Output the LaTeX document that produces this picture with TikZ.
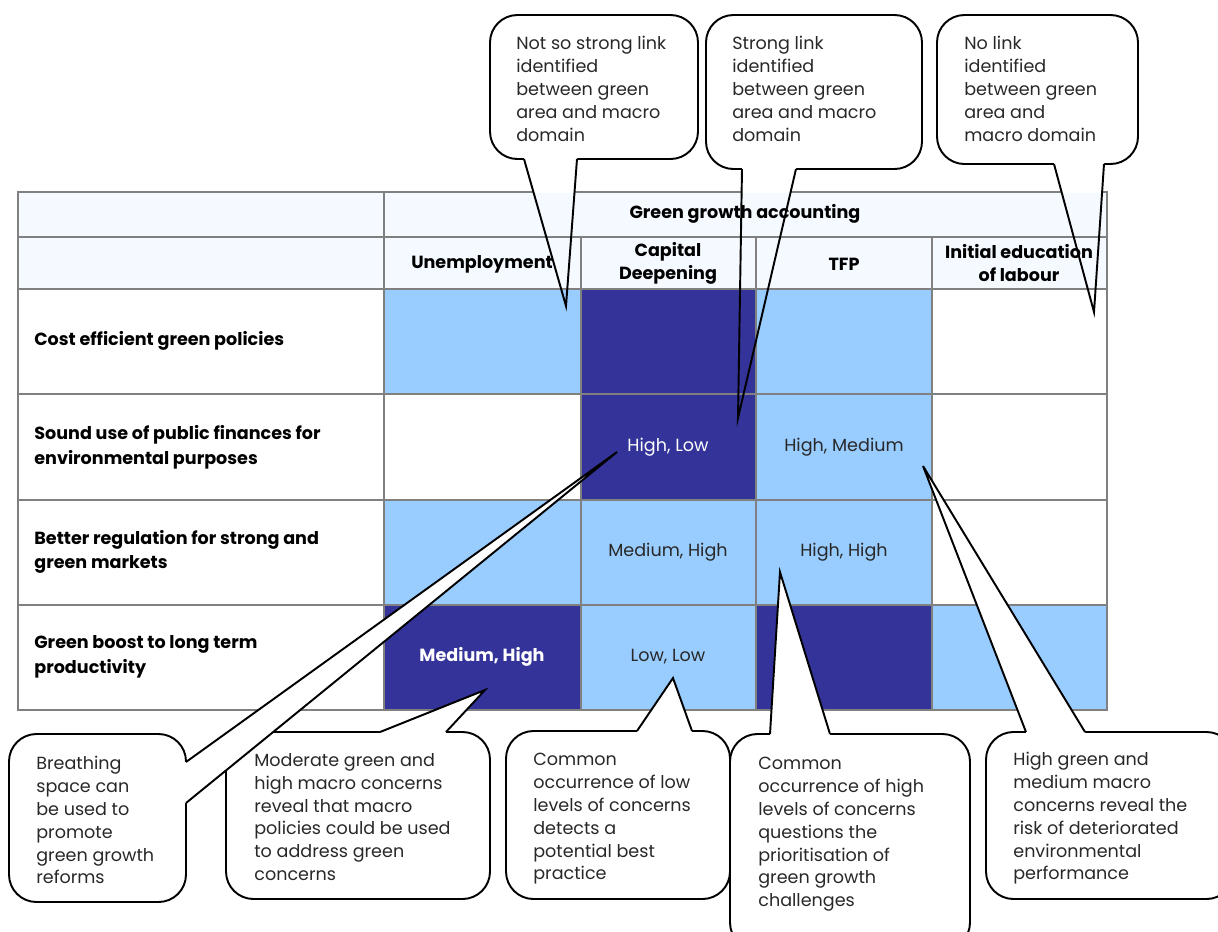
\documentclass[tikz,border=0pt]{standalone}
\usepackage{fontspec}
\setmainfont{Poppins}
\definecolor{paleblue}{RGB}{244,250,255}
\definecolor{lightblue}{RGB}{153,204,255}
\definecolor{darkblue}{RGB}{51,51,153}
\definecolor{gridgray}{RGB}{128,128,128}
\definecolor{textgray}{RGB}{40,40,40}

\begin{document}
\begin{tikzpicture}
  [x=0.02cm, y=-0.02cm,
  cell/.style={draw=gridgray, line width=1.3pt},
  head/.style={font=\fontsize{10}{13}\selectfont\bfseries, align=center, text=black},
  rowlabel/.style={font=\fontsize{10}{14}\selectfont\bfseries, align=left, anchor=west, inner sep=0pt, text=black},
  value/.style={font=\fontsize{10}{13}\selectfont, text=textgray},
  bubble/.style={draw=black, fill=white, line width=1.1pt, rounded corners=0.55cm},
  pointer/.style={draw=black, line width=1.1pt, line join=miter},
  note/.style={font=\fontsize{10}{13}\selectfont, text=textgray, align=left, anchor=north west, inner sep=0pt}]
  \useasboundingbox (0,0) rectangle (1218,931);

% Table
\path[cell, fill=paleblue] (18,192) rectangle (384,237);
\path[cell, fill=paleblue] (18,237) rectangle (384,289);
\path[cell, fill=paleblue] (384,192) rectangle (1107,237);
\path[cell, fill=paleblue] (384,237) rectangle (581,289);
\path[cell, fill=paleblue] (581,237) rectangle (756,289);
\path[cell, fill=paleblue] (756,237) rectangle (932,289);
\path[cell, fill=paleblue] (932,237) rectangle (1107,289);

\path[cell, fill=white] (18,289) rectangle (384,394);
\path[cell, fill=lightblue] (384,289) rectangle (581,394);
\path[cell, fill=darkblue] (581,289) rectangle (756,394);
\path[cell, fill=lightblue] (756,289) rectangle (932,394);
\path[cell, fill=white] (932,289) rectangle (1107,394);

\path[cell, fill=white] (18,394) rectangle (384,500);
\path[cell, fill=white] (384,394) rectangle (581,500);
\path[cell, fill=darkblue] (581,394) rectangle (756,500);
\path[cell, fill=lightblue] (756,394) rectangle (932,500);
\path[cell, fill=white] (932,394) rectangle (1107,500);

\path[cell, fill=white] (18,500) rectangle (384,605);
\path[cell, fill=lightblue] (384,500) rectangle (581,605);
\path[cell, fill=lightblue] (581,500) rectangle (756,605);
\path[cell, fill=lightblue] (756,500) rectangle (932,605);
\path[cell, fill=white] (932,500) rectangle (1107,605);

\path[cell, fill=white] (18,605) rectangle (384,710);
\path[cell, fill=darkblue] (384,605) rectangle (581,710);
\path[cell, fill=lightblue] (581,605) rectangle (756,710);
\path[cell, fill=darkblue] (756,605) rectangle (932,710);
\path[cell, fill=lightblue] (932,605) rectangle (1107,710);

\node (title) [head] at (745,214) {Green growth accounting};
\node (unemp) [head] at (482,264) {Unemployment};
\node (capdeep) [head] at (668,263) {Capital\\Deepening};
\node (tfp) [head] at (844,264) {TFP};
\node (initedu) [head] at (1019,263) {Initial education\\of labour};

\node (cost) [rowlabel] at (34,341) {Cost efficient green policies};
\node (sound) [rowlabel] at (34,447) {Sound use of public finances for\\environmental purposes};
\node (regul) [rowlabel] at (34,552) {Better regulation for strong and\\green markets};
\node (boost) [rowlabel] at (34,657) {Green boost to long term\\productivity};

\node (sound-cap) [value, text=white] at (668,447) {High, Low};
\node (sound-tfp) [value] at (844,447) {High, Medium};
\node (regul-cap) [value] at (668,552) {Medium, High};
\node (regul-tfp) [value] at (844,552) {High, High};
\node (boost-unemp) [value, text=white, font=\fontsize{10}{13}\selectfont\bfseries] at (482,657) {Medium, High};
\node (boost-cap) [value] at (668,657) {Low, Low};

% Callouts above the table (pointers see-through over the cells)
\path[bubble] (490,15) rectangle (698,159);
\path[bubble] (706,15) rectangle (922,169);
\path[bubble] (937,15) rectangle (1138,164);
\begin{scope}
  \clip (0,0) rectangle (1218,192);
  \fill[white] (524,150) -- (524,159) -- (566,306) -- (577,159) -- (577,150) -- cycle;
  \fill[white] (742,160) -- (742,169) -- (738,418) -- (796,169) -- (796,160) -- cycle;
  \fill[white] (1054,155) -- (1054,164) -- (1094,312) -- (1104,164) -- (1104,155) -- cycle;
\end{scope}
\draw[pointer] (524,159) -- (566,306) -- (577,159);
\draw[pointer] (742,169) -- (738,418) -- (796,169);
\draw[pointer] (1054,164) -- (1094,312) -- (1104,164);

\node (weak) [note] at (516,36) {Not so strong link\\identified\\between green\\area and macro\\domain};
\node (strong) [note] at (732,36) {Strong link\\identified\\between green\\area and macro\\domain};
\node (nolink) [note] at (964,36) {No link\\identified\\between green\\area and\\macro domain};

% Callouts below the table
\path[bubble] (226,732) rectangle (490,899);
\fill[white] (380,740) -- (380,732) -- (485,690) -- (446,732) -- (446,740) -- cycle;
\draw[pointer] (380,732) -- (485,690) -- (446,732);

\path[bubble] (9,734) rectangle (186,902);
\fill[white] (178,762) -- (186,762) -- (617,452) -- (186,803) -- (178,803) -- cycle;
\draw[pointer] (186,762) -- (617,452) -- (186,803);

\path[bubble] (506,731) rectangle (730,899);
\fill[white] (637,739) -- (637,731) -- (673,678) -- (692,731) -- (692,739) -- cycle;
\draw[pointer] (637,731) -- (673,678) -- (692,731);

\path[bubble] (730,734) rectangle (970,950);
\fill[white] (770,742) -- (770,734) -- (780,572) -- (830,734) -- (830,742) -- cycle;
\draw[pointer] (770,734) -- (780,572) -- (830,734);

\path[bubble] (986,732) rectangle (1234,899);
\fill[white] (1026,740) -- (1026,732) -- (923,466) -- (1085,732) -- (1085,740) -- cycle;
\draw[pointer] (1026,732) -- (923,466) -- (1085,732);

\node (breath) [note] at (36,756) {Breathing\\space can\\be used to\\promote\\green growth\\reforms};
\node (moderate) [note] at (254,753) {Moderate green and\\high macro concerns\\reveal that macro\\policies could be used\\to address green\\concerns};
\node (lowlow) [note] at (533,753) {Common\\occurrence of low\\levels of concerns\\detects a\\potential best\\practice};
\node (highhigh) [note] at (758,757) {Common\\occurrence of high\\levels of concerns\\questions the\\prioritisation of\\green growth\\challenges};
\node (highmed) [note] at (1013,752) {High green and\\medium macro\\concerns reveal the\\risk of deteriorated\\environmental\\performance};
\end{tikzpicture}
\end{document}
